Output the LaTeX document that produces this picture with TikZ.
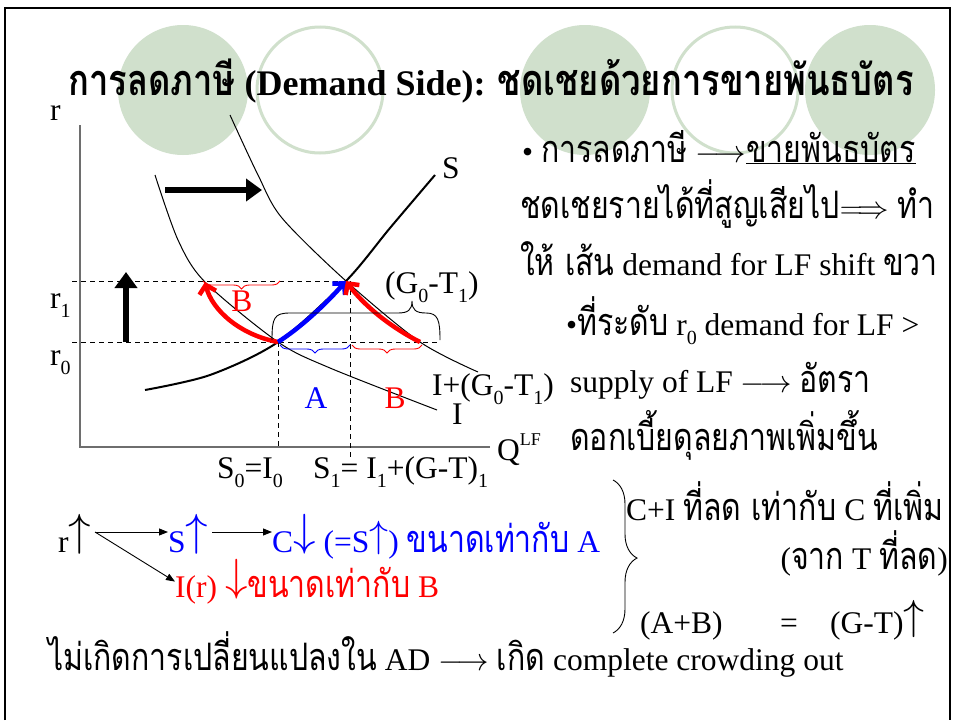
\RequirePackage{fix-cm}
\documentclass[tikz,border=0pt]{standalone}
\usepackage{fontspec}
\setmainfont{Liberation Serif}
\newfontfamily\thaifont[Script=Thai, Scale=1.2, FakeStretch=0.8]{Loma}
\usetikzlibrary{arrows.meta,decorations.pathreplacing}
\definecolor{circfill}{RGB}{208,224,204}
\definecolor{axisgray}{RGB}{110,110,110}
\newcommand{\tha}[1]{{\thaifont #1}}
\newcommand{\sbs}[1]{\raisebox{-0.3em}{\fontsize{20}{20}\selectfont #1}}
\newcommand{\sps}[1]{\raisebox{0.45em}{\fontsize{18}{18}\selectfont #1}}
\newcommand{\bup}{\raisebox{0.2em}{\fontsize{45}{45}\selectfont$\uparrow$}}
\newcommand{\bdown}{\raisebox{0.2em}{\fontsize{45}{45}\selectfont$\downarrow$}}
\newcommand{\mup}{\raisebox{0.15em}{\fontsize{38}{38}\selectfont$\uparrow$}}
\newcommand{\gtup}{\raisebox{0.12em}{\fontsize{42}{42}\selectfont$\uparrow$}}
\tikzset{
  txt/.style={inner sep=0pt, anchor=base west, font=\fontsize{31.5}{34}\selectfont},
  dline/.style={dash pattern=on 5pt off 4pt, line width=0.8pt},
  axisline/.style={draw=axisgray, line width=1.6pt},
  curve/.style={line width=1pt},
  supply/.style={line width=2pt},
  bigarrow/.style={line width=5.5pt, -{Triangle[length=16pt,width=22pt]}},
  movearrow/.style={line width=4.5pt, -{Straight Barb[length=8pt,width=17pt]}},
  smallarrow/.style={line width=0.9pt, -{Triangle[length=9pt,width=7pt]}},
  circF/.style={fill=circfill},
  circO/.style={draw=circfill, line width=3pt},
  brc/.style={decorate, decoration={brace, amplitude=8pt}, line width=0.9pt},
}
\begin{document}
\begin{tikzpicture}[x=1pt,y=-1pt]
\useasboundingbox (0,0) rectangle (955,720);
\fill[white] (0,0) rectangle (955,720);
% frame
\draw[line width=1.5pt] (5,720) -- (5,8) -- (950,8) -- (950,720);
% decorative circles
\fill[circF] (183,90) circle (65);
\draw[circO] (320,90) circle (63);
\fill[circF] (585,90) circle (65);
\draw[circO] (735,90) circle (63);
\fill[circF] (870,90) circle (65);
% title
\node[inner sep=0pt, anchor=base, font=\fontsize{36}{40}\selectfont\bfseries] (title) at (491,95)
  {\tha{การลดภาษี} (Demand Side): \tha{ชดเชยด้วยการขายพันธบัตร}};

% ---------- graph ----------
\coordinate (O) at (80,447);
\coordinate (E0) at (278,342);
\coordinate (E1) at (346,281);
\coordinate (B1) at (205,282);
\coordinate (B2) at (420,342);
\draw[axisline] (80,125) -- (O) -- (490,447);
\draw[dline] (72,281) -- (E1);
\draw[dline] (72,342) -- (440,342);
\draw[dline] (E0) -- (278,447);
\draw[dline] (350,281) -- (350,458);
% curves
\draw[supply] plot[smooth] coordinates {(145,390) (210,375) (278,342) (346,281) (390,228) (435,175)};
\draw[curve] plot[smooth] coordinates {(155,175) (178,240) (205,282) (278,342) (330,368) (437,410)};
\draw[curve] plot[smooth] coordinates {(230,115) (258,175) (282,218) (346,281) (420,342) (478,372)};
% shift arrows
\draw[bigarrow] (126,342) -- (126,272);
\draw[bigarrow] (165,190) -- (262,190);
% movement arrows
\draw[movearrow, red] (E0) .. controls (240,335) and (212,310) .. (B1);
\draw[movearrow, blue] (E0) .. controls (300,328) and (325,305) .. (E1);
\draw[movearrow, red] (B2) .. controls (392,328) and (364,306) .. (E1);
% braces
\draw[brc, red] (280,281) -- (203,281);
\draw[brc, blue] (350,345) -- (280,345);
\draw[brc, red] (422,345) -- (352,345);
\draw[line width=0.9pt] (272,340) .. controls (272,318) and (274,313) .. (290,313) -- (398,313)
  .. controls (408,313) and (412,310) .. (412,301) .. controls (412,310) and (416,313) .. (426,313)
  .. controls (438,313) and (440,320) .. (440,340);
% graph labels
\node[txt] (lr) at (50,120) {r};
\node[txt] (lr1) at (50,308) {r\sbs{1}};
\node[txt] (lr0) at (50,365) {r\sbs{0}};
\node[txt] (lS) at (442,178) {S};
\node[txt] (lG) at (385,293) {(G\sbs{0}-T\sbs{1})};
\node[txt] (lIG) at (432,395) {I+(G\sbs{0}-T\sbs{1})};
\node[txt] (lI) at (452,424) {I};
\node[txt] (lQ) at (497,460) {Q\sps{LF}};
\node[txt, anchor=base, text=blue] (lA) at (316,408) {A};
\node[txt, anchor=base, text=red] (lB2) at (395,408) {B};
\node[txt, anchor=base, text=red] (lB1) at (242,311) {B};
\node[txt] (lS0) at (217,478) {S\sbs{0}=I\sbs{0}};
\node[txt] (lS1) at (313,478) {S\sbs{1}= I\sbs{1}+(G-T)\sbs{1}};

% ---------- right text ----------
\node[txt] (t1) at (522,162) {• \tha{การลดภาษี} $\longrightarrow$\underline{\tha{ขายพันธบัตร}}};
\node[txt] (t2) at (520,218) {\tha{ชดเชยรายได้ที่สูญเสียไป}$\Longrightarrow$\hspace{9pt}\tha{ทำ}};
\node[txt] (t3) at (520,275) {\tha{ให้ เส้น} demand for LF shift \tha{ขวา}};
\node[txt] (t4) at (566,335) {•\tha{ที่ระดับ} r\sbs{0} demand for LF >};
\node[txt] (t5) at (570,392) {supply of LF $\longrightarrow$ \tha{อัตรา}};
\node[txt] (t6) at (570,450) {\tha{ดอกเบี้ยดุลยภาพเพิ่มขึ้น}};

% ---------- bottom ----------
\node[txt] (rup) at (58,552) {r\bup};
\node[txt, text=blue] (Sup) at (168,552) {S\bup};
\node[txt, text=blue] (Cdn) at (272,552) {C\bdown\ (=S\mup) \tha{ขนาดเท่ากับ} A};
\node[txt, text=red] (Ir) at (175,597) {I(r) \bdown\tha{ขนาดเท่ากับ} B};
\coordinate (fork) at (95,532);
\draw[smallarrow] (fork) -- (Sup.west |- fork);
\draw[smallarrow] (fork) -- (Ir.west);
\draw[smallarrow] (Sup.east |- fork) ++(4,0) -- (Cdn.west |- fork);
\draw[brc, decoration={brace, amplitude=24pt, aspect=0.51}] (613,480) -- (613,633);
\node[txt] (ci) at (626,520) {C+I \tha{ที่ลด เท่ากับ} C \tha{ที่เพิ่ม}};
\node[txt, anchor=base east] (jak) at (948,569) {(\tha{จาก} T \tha{ที่ลด})};
\node[txt] (ab) at (640,633) {(A+B)};
\node[txt] (eq) at (780,633) {=};
\node[txt] (gt) at (830,633) {(G-T)\gtup};
\node[txt] (last) at (48,670) {\tha{ไม่เกิดการเปลี่ยนแปลงใน} AD $\longrightarrow$ \tha{เกิด} complete crowding out};
\end{tikzpicture}
\end{document}
